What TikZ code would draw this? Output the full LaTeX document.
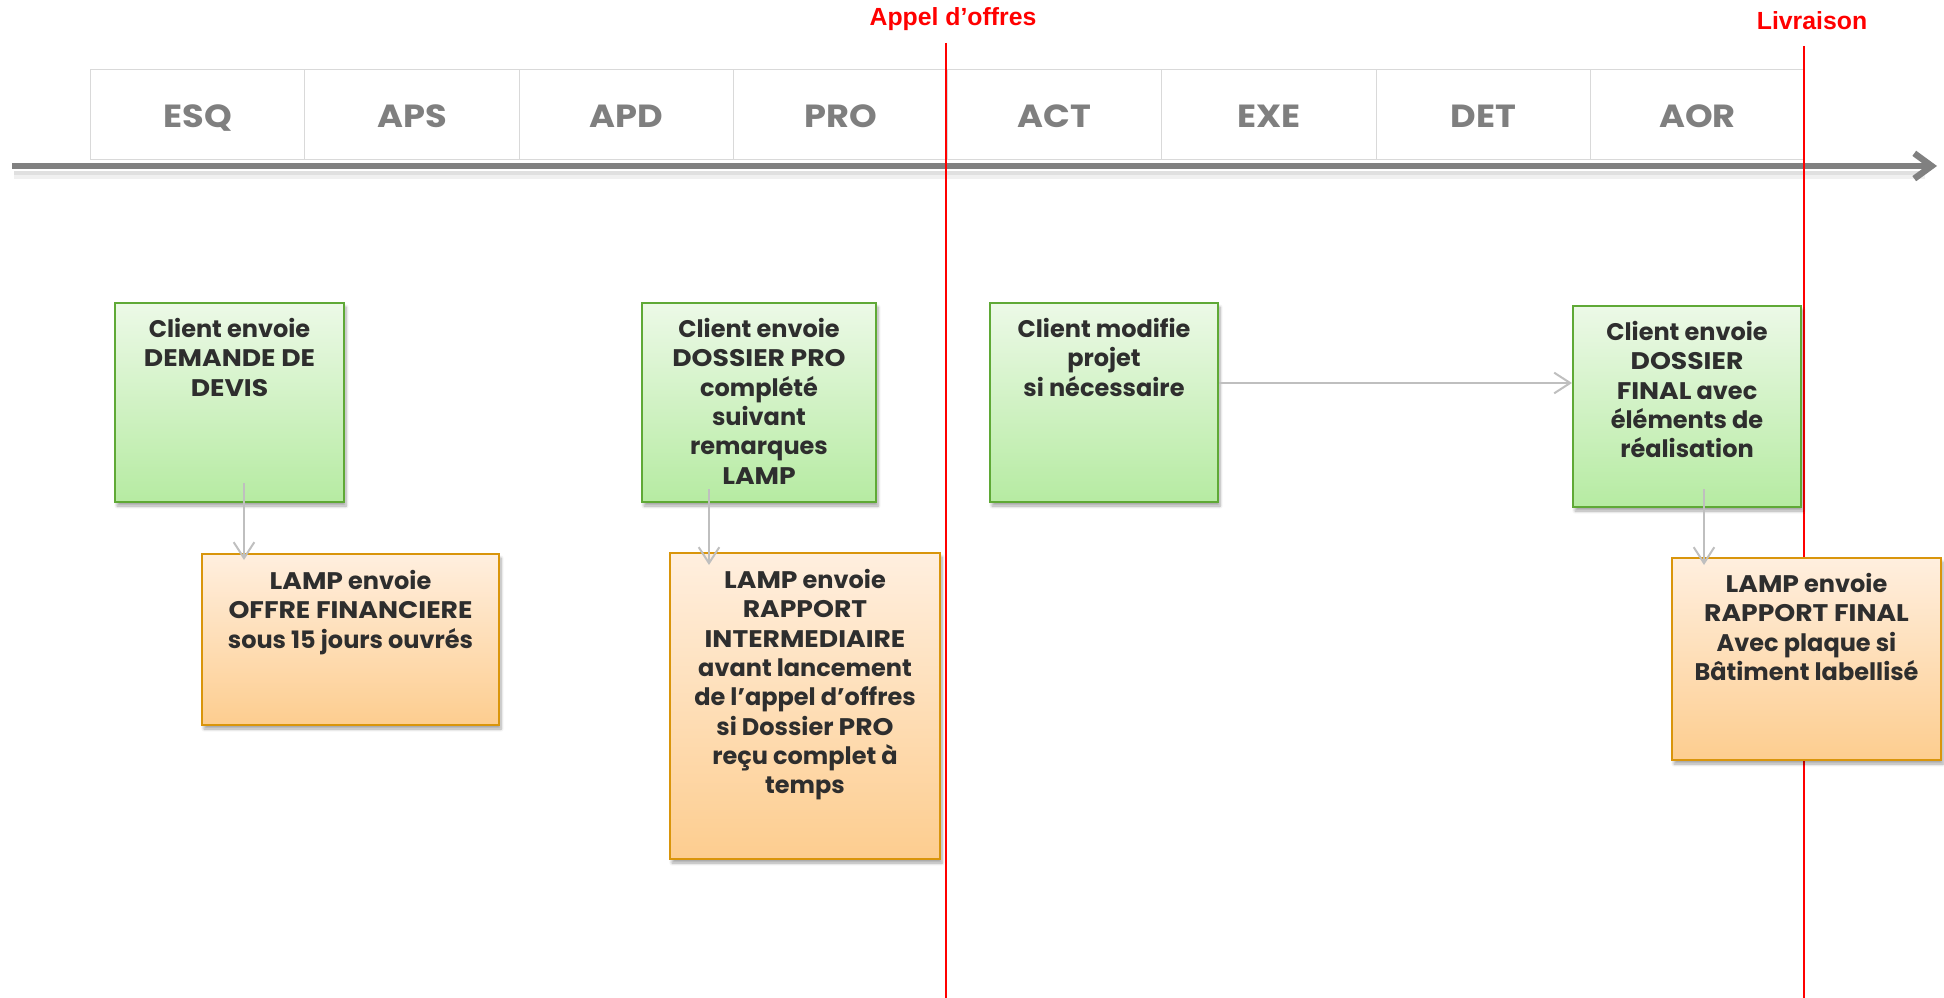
\documentclass[tikz,border=0pt]{standalone}
\usepackage{fontspec}
\setmainfont{Poppins}
\newfontfamily\redfont{Liberation Sans}
\newfontfamily\phasefont{Poppins}[FakeStretch=1.1]
\newfontfamily\capsfont{Poppins}[FakeStretch=1.11]
\newcommand\uc[1]{{\capsfont\bfseries #1}}
\usetikzlibrary{arrows.meta,shadows.blur,calc}
\definecolor{phaseborder}{HTML}{D9D9D9}
\definecolor{phasetext}{HTML}{7F7F7F}
\definecolor{axisgray}{HTML}{808080}
\definecolor{gtop}{HTML}{ECF9E7}
\definecolor{gbot}{HTML}{B6EBA2}
\definecolor{gborder}{HTML}{5FA936}
\definecolor{otop}{HTML}{FFEFDF}
\definecolor{obot}{HTML}{FDCD8F}
\definecolor{oborder}{HTML}{D9950B}
\definecolor{conngray}{HTML}{BFBFBF}
\definecolor{textdark}{HTML}{2E2E2E}
\definecolor{redmark}{HTML}{FF0000}
\tikzset{
  phase/.style={draw=phaseborder, line width=0.8pt, fill=white, minimum width=160.7pt, minimum height=67.5pt, inner sep=0pt, anchor=north west},
  phaselab/.style={inner sep=0pt, text depth=0pt, text=phasetext, font=\phasefont\fontsize{24}{28}\selectfont\bfseries},
  boxbase/.style={line width=1.5pt, inner sep=0pt, anchor=north west, blur shadow={shadow xshift=1.5pt, shadow yshift=-3pt, shadow blur steps=6, shadow opacity=35}},
  gbox/.style={boxbase, draw=gborder, top color=gtop, bottom color=gbot},
  obox/.style={boxbase, draw=oborder, top color=otop, bottom color=obot},
  btext/.style={anchor=north, align=center, inner sep=0pt, text=textdark, font=\fontsize{18}{22}\selectfont\bfseries},
  conn/.style={draw=conngray, line width=1.5pt, -{Straight Barb[length=12pt,width=15.5pt]}},
  redline/.style={draw=redmark, line width=1.5pt},
  redlab/.style={text=redmark, font=\redfont\fontsize{18.6}{20}\selectfont\bfseries, inner sep=0pt},
  axisline/.style={draw=axisgray, line width=4.8pt, -{Straight Barb[length=13pt,width=19pt]}},
  axisshadow/.style={draw=black, line width=2.5pt},
}
\begin{document}
\begin{tikzpicture}[x=0.75pt,y=-0.75pt]
\useasboundingbox (0,0) rectangle (1944,998);
% phases
\foreach \lab [count=\i from 0] in {ESQ,APS,APD,PRO,ACT,EXE,DET,AOR}{
  \node[phase] (ph\i) at ({90+214.25*\i},69) {};
  \node[phaselab] (pl\i) at ($(ph\i.center)+(0,2)$) {\lab};
}
% axis
\coordinate (axs) at (12,166);
\coordinate (axe) at (1937,166);
\coordinate (shs) at (14,173);
\coordinate (she) at (1925,173);
\coordinate (shs2) at (14,177);
\coordinate (she2) at (1925,177);
\draw[axisshadow, opacity=0.12] (shs) -- (she);
\draw[axisshadow, opacity=0.06] (shs2) -- (she2);
\draw[axisline] (axs) -- (axe);
% red markers
\coordinate (r1t) at (946,43);
\coordinate (r1b) at (946,998);
\coordinate (r2t) at (1804,46);
\coordinate (r2b) at (1804,998);
\draw[redline] (r1t) -- (r1b);
\draw[redline] (r2t) -- (r2b);
\node[redlab] (ao) at (953,19) {Appel d’offres};
\node[redlab] (liv) at (1812,21) {Livraison};
% boxes
\node[gbox, minimum width=171.75pt, minimum height=149.25pt] (g1) at (114,302) {};
\node[obox, minimum width=222.75pt, minimum height=128.25pt] (o1) at (201,553) {};
\node[gbox, minimum width=175.5pt, minimum height=149.25pt] (g2) at (641,302) {};
\node[obox, minimum width=202.5pt, minimum height=229.5pt] (o2) at (669,552) {};
\node[gbox, minimum width=171pt, minimum height=149.25pt] (g3) at (989,302) {};
\node[gbox, minimum width=171pt, minimum height=150.75pt] (g4) at (1572,305) {};
\node[obox, minimum width=201.75pt, minimum height=151.5pt] (o3) at (1671,557) {};
% texts
\node[btext] (tg1) at ($(g1.north)+(0,16)$) {Client envoie\\\uc{DEMANDE DE}\\\uc{DEVIS}};
\node[btext] (to1) at ($(o1.north)+(0,17)$) {\uc{LAMP} envoie\\\uc{OFFRE FINANCIERE}\\sous 15 jours ouvrés};
\node[btext] (tg2) at ($(g2.north)+(0,16)$) {Client envoie\\\uc{DOSSIER PRO}\\complété\\suivant\\remarques\\\uc{LAMP}};
\node[btext] (to2) at ($(o2.north)+(0,17)$) {\uc{LAMP} envoie\\\uc{RAPPORT}\\\uc{INTERMEDIAIRE}\\avant lancement\\de l’appel d’offres\\si Dossier \uc{PRO}\\reçu complet à\\temps};
\node[btext] (tg3) at ($(g3.north)+(0,16)$) {Client modifie\\projet\\si nécessaire};
\node[btext] (tg4) at ($(g4.north)+(0,16)$) {Client envoie\\\uc{DOSSIER}\\\uc{FINAL} avec\\éléments de\\réalisation};
\node[btext] (to3) at ($(o3.north)+(0,16)$) {\uc{LAMP} envoie\\\uc{RAPPORT FINAL}\\Avec plaque si\\Bâtiment labellisé};
% connectors
\draw[conn] ($(g1.south west)+(130,-20)$) -- ($(o1.north west)+(43,7)$);
\draw[conn] ($(g2.south west)+(68,-14)$) -- ($(o2.north west)+(40,13)$);
\draw[conn] ($(g3.north east)+(0,81)$) -- ($(g4.north west)+(0,78)$);
\draw[conn] ($(g4.south west)+(132,-19)$) -- ($(o3.north west)+(33,8)$);
\end{tikzpicture}
\end{document}
